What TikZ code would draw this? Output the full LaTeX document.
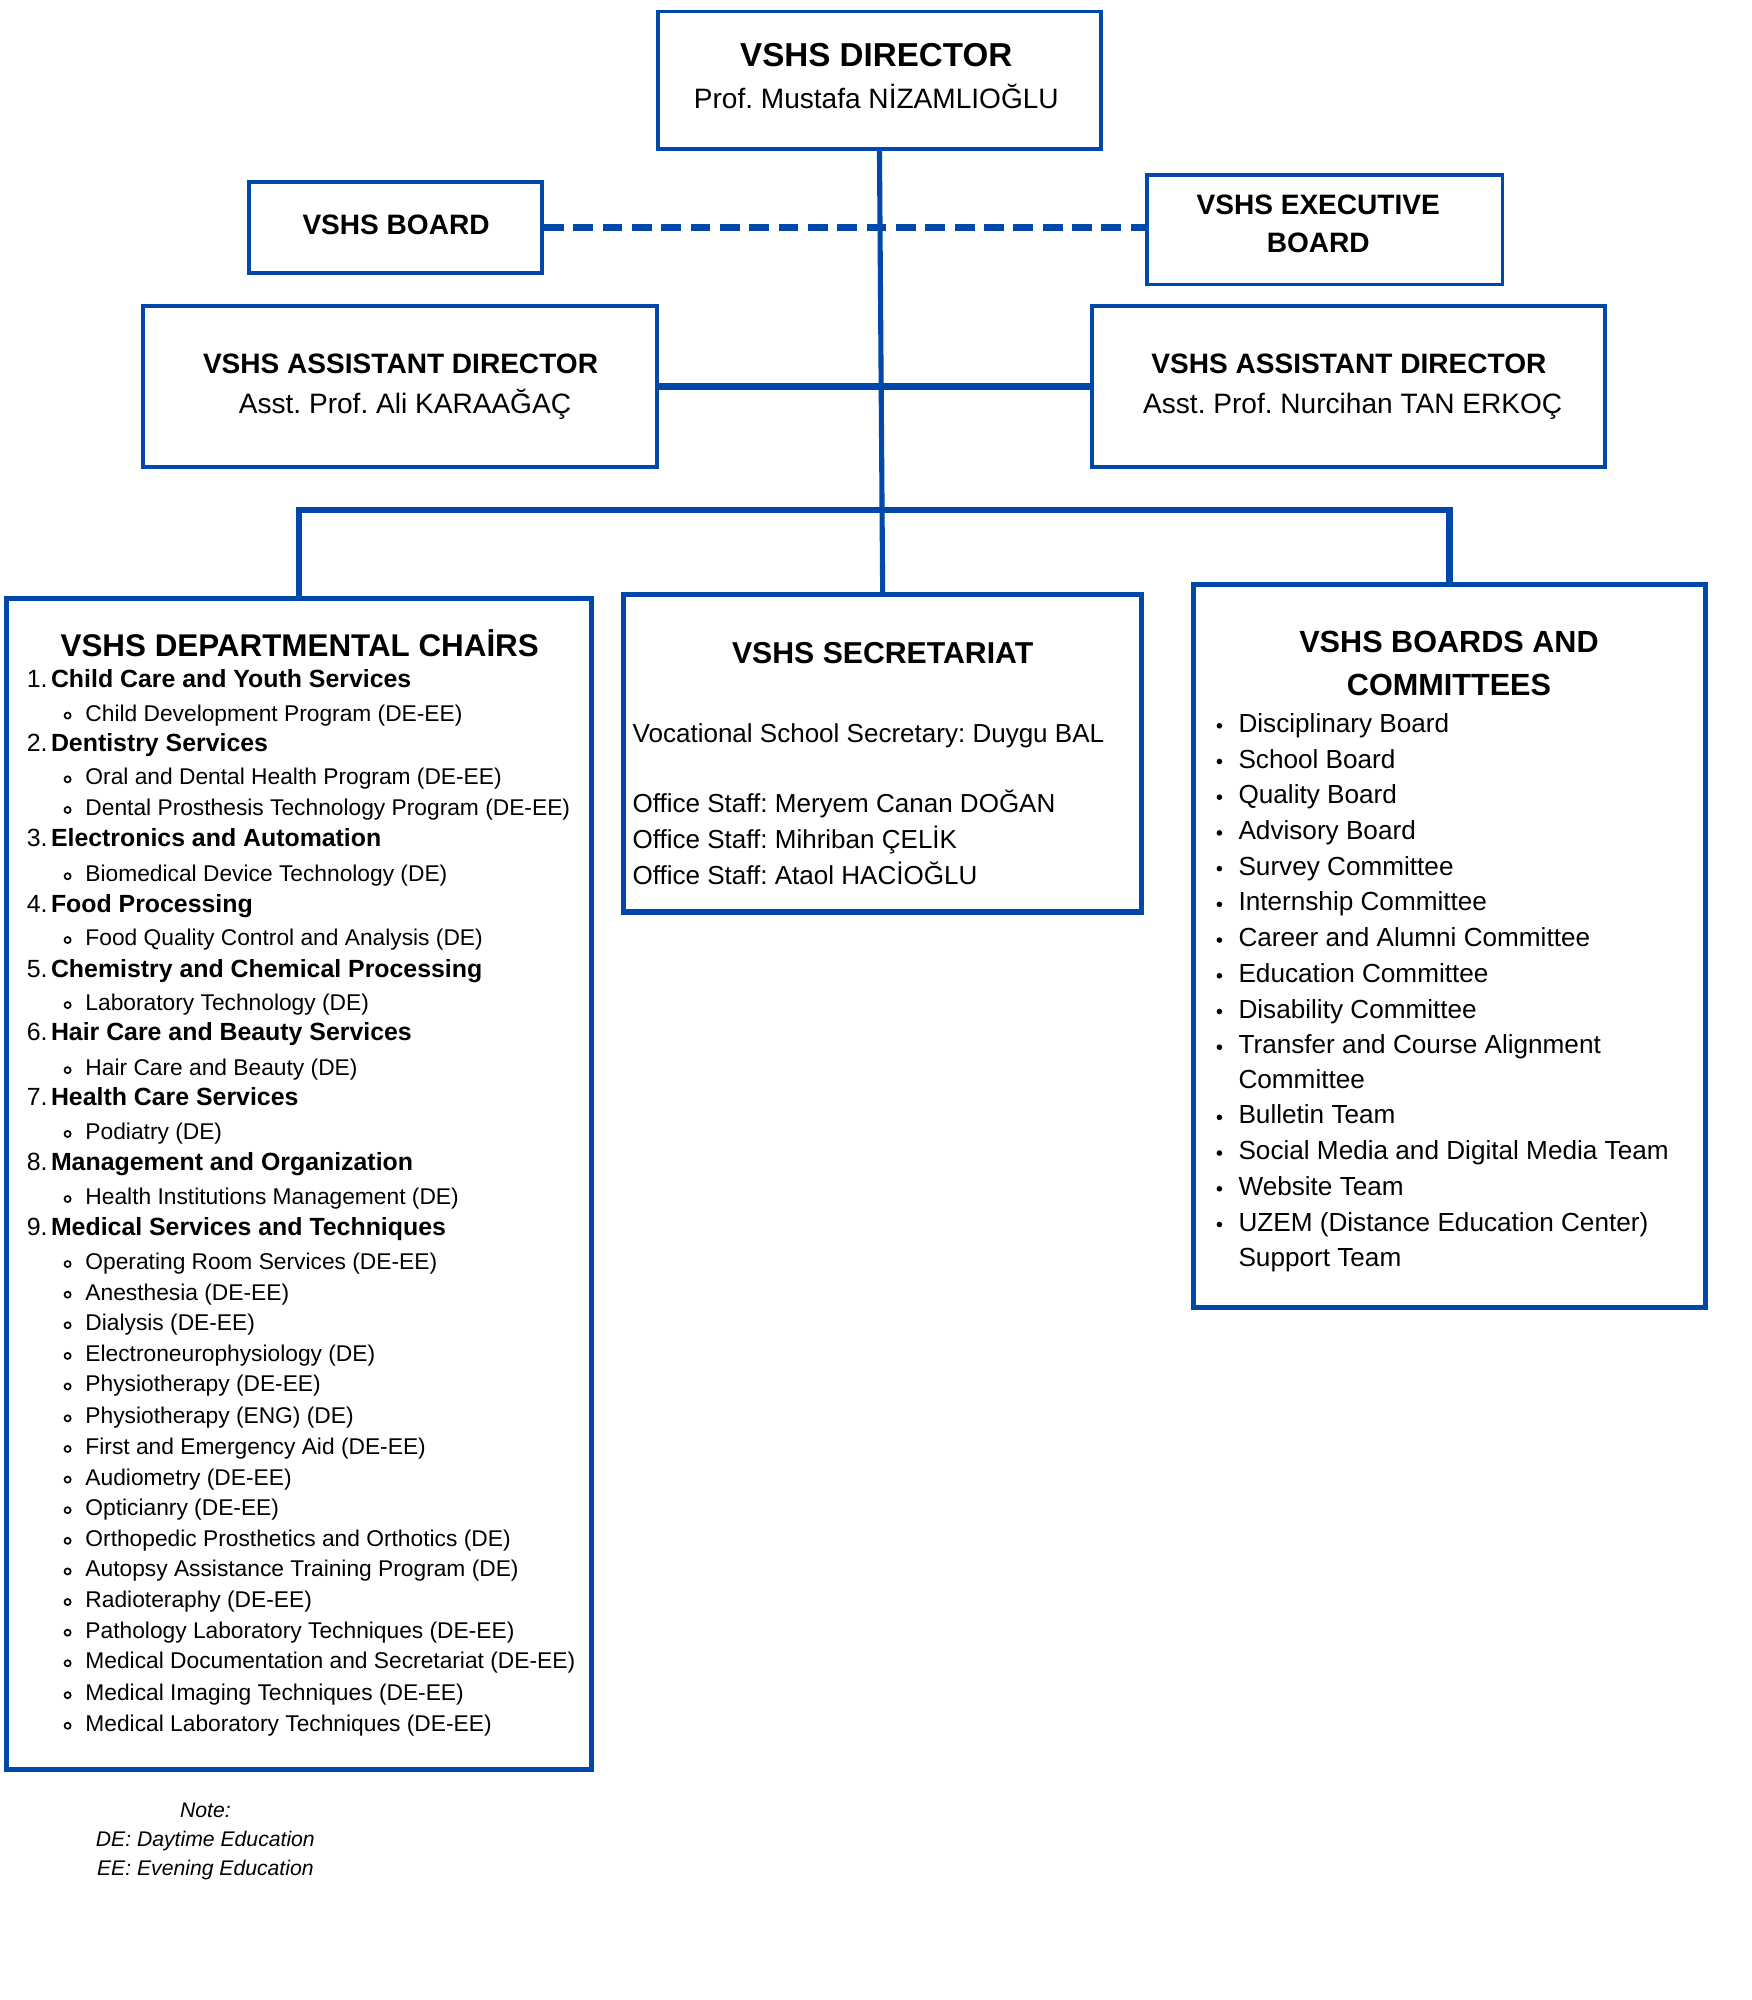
\documentclass[tikz,border=0pt]{standalone}
\usepackage{fontspec}
\setmainfont{Liberation Sans}
\definecolor{vblue}{RGB}{0,72,170}
\newcommand{\fsz}[1]{\fontsize{#1}{#1}\selectfont}
\frenchspacing
\begin{document}
\begin{tikzpicture}[x=1pt,y=-1pt,
  box/.style={draw=vblue, line width=3pt, inner sep=0pt},
  bigbox/.style={draw=vblue, line width=4pt, inner sep=0pt},
  conn/.style={draw=vblue, line width=5pt},
  vconn/.style={draw=vblue, line width=4pt},
  txt/.style={inner sep=0pt, outer sep=0pt, text=black, font=\frenchspacing},
  bul/.style={line width=1.3pt, black},
]
\useasboundingbox (0,0) rectangle (1373,1568);
% boxes
\node[box, minimum width=347pt, minimum height=108pt] (dir) at (689.5,63) {};
\node[box, minimum width=230pt, minimum height=71pt] (board) at (310,178.5) {};
\node[box, minimum width=279pt, minimum height=86pt] (exec) at (1038.5,180) {};
\node[box, minimum width=403pt, minimum height=126pt] (al) at (313.5,303) {};
\node[box, minimum width=402pt, minimum height=126pt] (ar) at (1057,303) {};
\node[bigbox, minimum width=459pt, minimum height=918pt] (dept) at (234.5,928) {};
\node[bigbox, minimum width=406pt, minimum height=249pt] (sec) at (692,590.5) {};
\node[bigbox, minimum width=401pt, minimum height=567pt] (boards) at (1136.5,741.5) {};
% connectors
\coordinate (bus) at (692,400);
\draw[vconn] (dir.south) -- (sec.north);
\draw[conn, dash pattern=on 15.5pt off 7.5pt] (board.east) -- (board.east -| exec.west);
\draw[conn] (al.east) -- (ar.west);
\draw[conn] (dept.north) -- (dept.north |- bus) -- (boards.north |- bus) -- (boards.north);
% director
\node[txt, anchor=base] (dirT) at (687,52) {\fsz{26}\bfseries VSHS DIRECTOR};
\node[txt, anchor=base] (dirN) at (687,85) {\fsz{22}Prof. Mustafa NİZAMLIOĞLU};
\node[txt, anchor=base] (boardT) at (310.5,184) {\fsz{22}\bfseries VSHS BOARD};
\node[txt, anchor=base] (execT1) at (1033.5,168) {\fsz{22}\bfseries VSHS EXECUTIVE};
\node[txt, anchor=base] (execT2) at (1033.5,198) {\fsz{22}\bfseries BOARD};
\node[txt, anchor=base] (alT) at (314,293) {\fsz{22}\bfseries VSHS ASSISTANT DIRECTOR};
\node[txt, anchor=base] (alN) at (317.5,324) {\fsz{22}Asst. Prof. Ali KARAAĞAÇ};
\node[txt, anchor=base] (arT) at (1057.5,293) {\fsz{22}\bfseries VSHS ASSISTANT DIRECTOR};
\node[txt, anchor=base] (arN) at (1060.5,324) {\fsz{22}Asst. Prof. Nurcihan TAN ERKOÇ};
% departmental chairs
\node[txt, anchor=base] (deptT) at (235,514.5) {\fsz{24.6}\bfseries VSHS DEPARTMENTAL CHAİRS};
\foreach \n/\y/\t in {1/532/Child Care and Youth Services, 2/582/Dentistry Services, 3/657/Electronics and Automation, 4/708/Food Processing, 5/759/Chemistry and Chemical Processing, 6/809/Hair Care and Beauty Services, 7/860/Health Care Services, 8/911/Management and Organization, 9/962/Medical Services and Techniques}{
  \node[txt, anchor=base west] (num\n) at (21,\y+7) {\fsz{19.5}\n.};
  \node[txt, anchor=base west] (cat\n) at (40,\y+7) {\fsz{19.5}\bfseries \t};
}
\foreach \y/\t [count=\i] in {559/{Child Development Program (DE-EE)}, 609/{Oral and Dental Health Program (DE-EE)}, 633/{Dental Prosthesis Technology Program (DE-EE)}, 685/{Biomedical Device Technology (DE)}, 735/{Food Quality Control and Analysis (DE)}, 786/{Laboratory Technology (DE)}, 837/{Hair Care and Beauty (DE)}, 887/{Podiatry (DE)}, 938/{Health Institutions Management (DE)}, 989/{Operating Room Services (DE-EE)}, 1013/{Anesthesia (DE-EE)}, 1037/{Dialysis (DE-EE)}, 1061/{Electroneurophysiology (DE)}, 1085/{Physiotherapy (DE-EE)}, 1110/{Physiotherapy (ENG) (DE)}, 1134/{First and Emergency Aid (DE-EE)}, 1158/{Audiometry (DE-EE)}, 1182/{Opticianry (DE-EE)}, 1206/{Orthopedic Prosthetics and Orthotics (DE)}, 1230/{Autopsy Assistance Training Program (DE)}, 1254/{Radioteraphy (DE-EE)}, 1278/{Pathology Laboratory Techniques (DE-EE)}, 1302/{Medical Documentation and Secretariat (DE-EE)}, 1327/{Medical Imaging Techniques (DE-EE)}, 1351/{Medical Laboratory Techniques (DE-EE)}}{
  \draw[bul] (53,\y+2) circle (2.4pt);
  \node[txt, anchor=base west] (prog\i) at (67,\y+6.3) {\fsz{17.85}\t};
}
% secretariat
\node[txt, anchor=base] (secT) at (692,520.5) {\fsz{23.7}\bfseries VSHS SECRETARIAT};
\foreach \y/\t [count=\i] in {575/{Vocational School Secretary: Duygu BAL}, 630/{Office Staff: Meryem Canan DOĞAN}, 658/{Office Staff: Mihriban ÇELİK}, 686/{Office Staff: Ataol HACİOĞLU}}{
  \node[txt, anchor=base west] (staff\i) at (496,\y+7.2) {\fsz{20.4}\t};
}
% boards and committees
\node[txt, anchor=base] (bcT1) at (1136,511.5) {\fsz{24}\bfseries VSHS BOARDS AND};
\node[txt, anchor=base] (bcT2) at (1136,545.5) {\fsz{24}\bfseries COMMITTEES};
\foreach \y/\t [count=\i] in {567/{Disciplinary Board}, 595/{School Board}, 623/{Quality Board}, 651/{Advisory Board}, 679/{Survey Committee}, 707/{Internship Committee}, 735/{Career and Alumni Committee}, 763/{Education Committee}, 791/{Disability Committee}, 819/{Transfer and Course Alignment}, 874/{Bulletin Team}, 902/{Social Media and Digital Media Team}, 930/{Website Team}, 958/{UZEM (Distance Education Center)}}{
  \fill[black] (956,\y+2) circle (2.2pt);
  \node[txt, anchor=base west] (bc\i) at (971,\y+7.2) {\fsz{20.5}\t};
}
\node[txt, anchor=base west] (bcA) at (971,853.2) {\fsz{20.5}Committee};
\node[txt, anchor=base west] (bcB) at (971,993.2) {\fsz{20.5}Support Team};
% note
\node[txt, anchor=base] (note1) at (161,1425) {\fsz{16.6}\itshape Note:};
\node[txt, anchor=base] (note2) at (161,1448) {\fsz{16.6}\itshape DE: Daytime Education};
\node[txt, anchor=base] (note3) at (161,1470) {\fsz{16.6}\itshape EE: Evening Education};
\end{tikzpicture}
\end{document}
